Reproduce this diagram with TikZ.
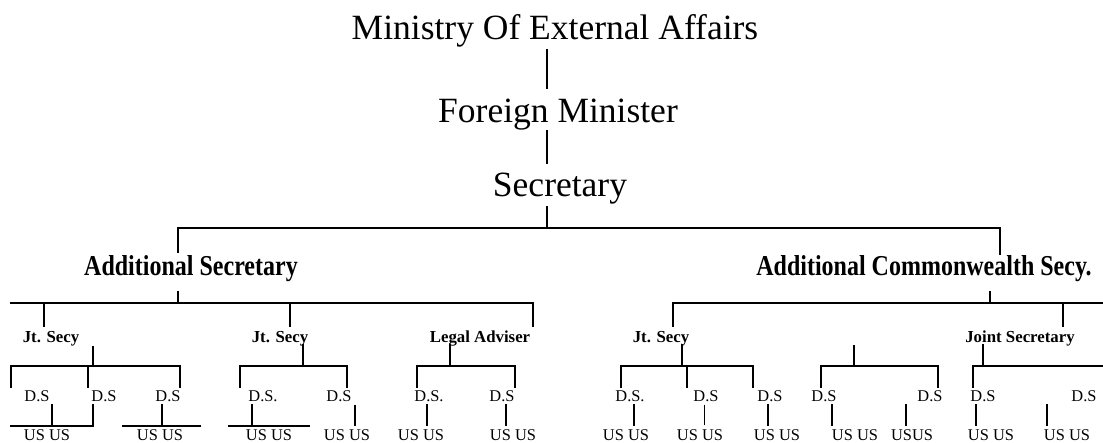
\documentclass[tikz,border=0pt]{standalone}
\usepackage{fontspec}
\usepackage{graphicx}
\setmainfont{Liberation Serif}
\begin{document}
\begin{tikzpicture}[x=1pt,y=-1pt,
  big/.style={inner sep=0pt,anchor=base,font=\fontsize{35.5}{36}\selectfont},
  mid/.style={inner sep=0pt,anchor=base,font=\fontsize{24}{26}\selectfont\bfseries},
  sbold/.style={inner sep=0pt,anchor=base,font=\fontsize{16.8}{18}\selectfont\bfseries},
  small/.style={inner sep=0pt,anchor=base,font=\fontsize{16.4}{18}\selectfont},
  ln/.style={line width=1.3pt,line cap=rect},
  thin/.style={line width=0.9pt,line cap=rect}]
\useasboundingbox (0,0) rectangle (1103,443);
% top level texts
\node[big] (mea) at (555,40) {Ministry Of External Affairs};
\node[big] (fm) at (558,123) {Foreign Minister};
\node[big] (sec) at (560,197) {Secretary};
\node[mid] (as) at (191,276) {\scalebox{1}[1.2]{Additional Secretary}};
\node[mid] (acs) at (924,276) {\scalebox{1}[1.2]{Additional Commonwealth Secy.}};
\node[sbold] (js1) at (51,343) {Jt. Secy};
\node[sbold] (js2) at (280,343) {Jt. Secy};
\node[sbold] (la) at (480,343) {Legal Adviser};
\node[sbold] (js3) at (661,343) {Jt. Secy};
\node[sbold] (js4) at (1020,343) {Joint Secretary};
% D.S row
\foreach \x/\t [count=\i] in {37/D.S,104/D.S,168/D.S,263/D.S.,339/D.S,429/D.S.,502/D.S,630/D.S.,706/D.S,770/D.S,824/D.S,930/D.S,983/D.S,1084/D.S}
  \node[small] (ds\i) at (\x,402) {\t};
% US row
\foreach \x/\t [count=\i] in {47/US US,160/US US,269/US US,347/US US,421/US US,513/US US,626/US US,700/US US,777/US US,855/US US,912/USUS,991/US US,1067/US US}
  \node[small] (us\i) at (\x,440.5) {\t};
% spine
\draw[ln] (547,50) -- (547,88);
\draw[ln] (547,131) -- (547,163);
\draw[ln] (547,207) -- (547,228);
\draw[ln] (178,252) -- (178,228) -- (1000,228) -- (1000,254);
% left branch
\draw[ln] (178,292) -- (178,303);
\draw[ln] (11,303) -- (533,303);
\draw[ln] (44,303) -- (44,326);
\draw[ln] (290,303) -- (290,326);
\draw[ln] (533,303) -- (533,326);
% Jt Secy 1
\draw[ln] (93,347) -- (93,366);
\draw[ln] (11,387) -- (11,366) -- (180,366) -- (180,387);
\draw[ln] (88,366) -- (88,387);
\draw[ln] (52,405) -- (52,426);
\draw[ln] (11,426) -- (93,426) -- (93,405);
\draw[ln] (162,405) -- (162,426);
\draw[ln] (123,426) -- (200,426);
% Jt Secy 2
\draw[ln] (303,345) -- (303,366);
\draw[ln] (240,387) -- (240,366) -- (347,366) -- (347,387);
\draw[ln] (252,405) -- (252,426);
\draw[ln] (229,426) -- (309,426);
\draw[ln] (355,406) -- (355,425);
% Legal Adviser
\draw[ln] (450,345) -- (450,366);
\draw[ln] (417,387) -- (417,366) -- (515,366) -- (515,387);
\draw[ln] (427,405) -- (427,425);
\draw[ln] (506,405) -- (506,425);
% right branch
\draw[ln] (990,292) -- (990,303);
\draw[ln] (673,326) -- (673,303) -- (1103,303);
\draw[ln] (1063,303) -- (1063,326);
% Jt Secy 3
\draw[ln] (682,345) -- (682,366);
\draw[ln] (621,387) -- (621,366) -- (753,366) -- (753,387);
\draw[ln] (687,366) -- (687,387);
\draw[ln] (634,405) -- (634,425);
\draw[thin] (704,405) -- (704,425);
\draw[ln] (768,405) -- (768,425);
% middle group
\draw[ln] (854,346) -- (854,366);
\draw[ln] (821,387) -- (821,366) -- (938,366) -- (938,387);
\draw[ln] (832,405) -- (832,425);
\draw[ln] (906,405) -- (906,425);
% Joint Secretary
\draw[ln] (983,345) -- (983,366);
\draw[ln] (973,387) -- (973,366) -- (1103,366);
\draw[ln] (976,405) -- (976,425);
\draw[ln] (1047,405) -- (1047,425);
\end{tikzpicture}
\end{document}
